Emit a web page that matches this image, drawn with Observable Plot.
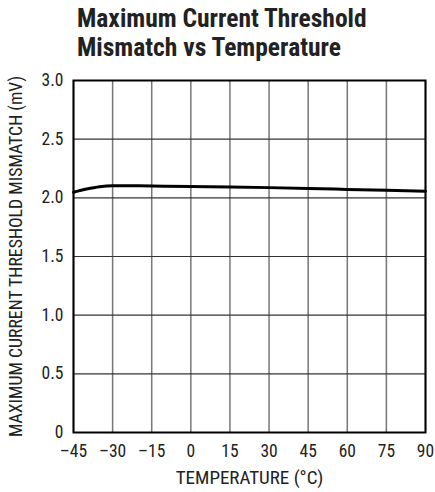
<!DOCTYPE html>
<html><head><meta charset="utf-8">
<script src="https://cdn.jsdelivr.net/npm/d3@7"></script>
<script src="https://cdn.jsdelivr.net/npm/@observablehq/plot@0.6"></script>
<style>
body{margin:0;background:#fff;}
#wrap{position:relative;width:435px;height:492px;font-family:"Liberation Sans Narrow","Roboto Condensed","Liberation Sans",Arial,sans-serif;}
#title{position:absolute;left:77px;top:4px;font-size:25.5px;font-weight:bold;line-height:29px;color:#222;}
</style></head><body>
<div id="wrap"><div id="title">Maximum Current Threshold<br>Mismatch vs Temperature</div></div>
<script>
const temps = [-45, -40, -35, -30, -20, -10, 0, 15, 30, 45, 60, 75, 90];
const mismatch = [2.048, 2.075, 2.095, 2.103, 2.102, 2.099, 2.096, 2.092, 2.087, 2.080, 2.072, 2.064, 2.056];
const xTicks = [-45, -30, -15, 0, 15, 30, 45, 60, 75, 90];
const yTicks = [0, 0.5, 1.0, 1.5, 2.0, 2.5, 3.0];
const xLabel = "TEMPERATURE (°C)";
const yLabel = "MAXIMUM CURRENT THRESHOLD MISMATCH (mV)";
const data = temps.map((t, i) => ({t, v: mismatch[i]}));
const font = '"Liberation Sans Narrow","Roboto Condensed","Liberation Sans",Arial,sans-serif';
const chart = Plot.plot({
  width: 435, height: 492,
  marginLeft: 73, marginRight: 10, marginTop: 80, marginBottom: 60,
  style: {fontFamily: font, fontSize: "17px", color: "#222", background: "transparent"},
  x: {domain: [-45, 90]},
  y: {domain: [0, 3]},
  marks: [
    Plot.ruleX(xTicks, {stroke: "#777", strokeWidth: 1.5}),
    Plot.ruleY(yTicks, {stroke: "#333", strokeWidth: 1.2}),
    Plot.axisX({ticks: xTicks, tickSize: 0, tickPadding: 12, fontSize: 17.5, label: null,
      tickFormat: d => d < 0 ? "\u2013" + Math.abs(d) : String(d)}),
    Plot.axisY({ticks: yTicks, tickSize: 0, tickPadding: 10, fontSize: 17.5, label: null,
      tickFormat: d => d === 0 ? "0" : d.toFixed(1)}),
    Plot.text([xLabel], {frameAnchor: "bottom", dy: 51, fontSize: 19, fill: "#222"}),
    Plot.text([yLabel], {frameAnchor: "left", textAnchor: "middle", rotate: -90, dx: -57, fontSize: 17.8, fill: "#222"}),
    Plot.line(data, {x: "t", y: "v", stroke: "#000", strokeWidth: 3, curve: "monotone-x"}),
    Plot.frame({stroke: "#000", strokeWidth: 2})
  ]
});
chart.style.position = "absolute";
chart.style.left = "0"; chart.style.top = "0";
document.getElementById("wrap").appendChild(chart);
</script>
</body></html>
